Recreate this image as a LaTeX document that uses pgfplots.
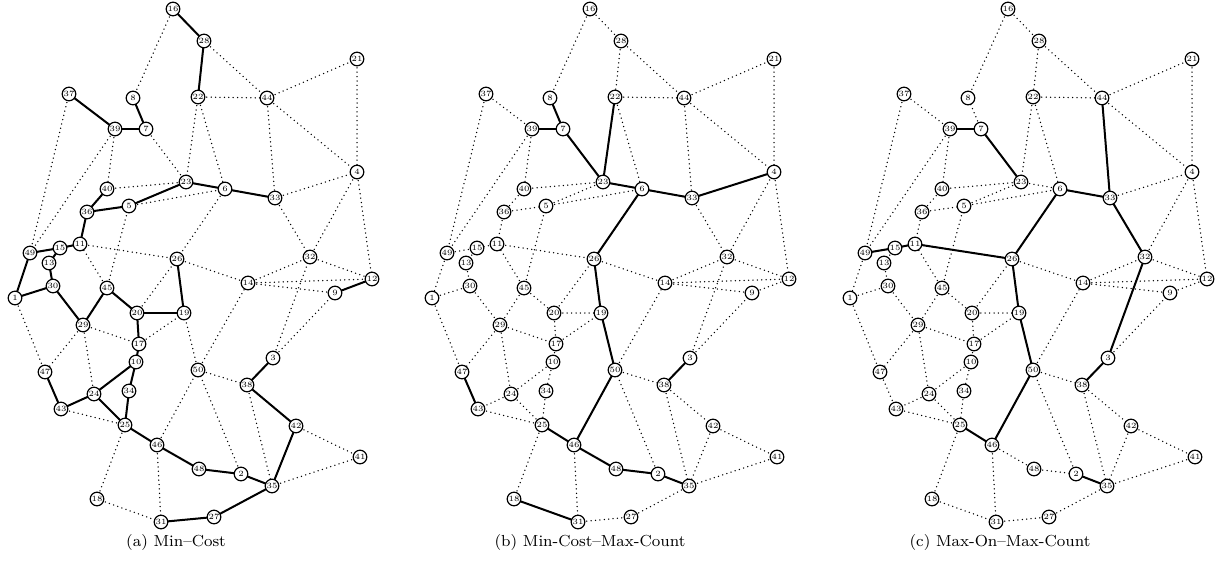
\documentclass[border=0pt]{standalone}
\usepackage{pgfplots}
\usepackage{pgfplotstable}
\pgfplotsset{compat=1.18}

\pgfplotstableread{
id x y
1 15 298
2 241 474
3 273 358
4 357 172
5 129 206
6 225 189
7 146 129
8 133 98
9 335 293
10 136 362
11 80 244
12 372 279
13 49 263
14 248 283
15 60 248
16 173 9
17 139 344
18 97 499
19 184 313
20 137 313
21 357 59
22 198 97
23 186 182
24 94 394
25 125 425
26 177 259
27 214 517
28 204 41
29 83 325
30 53 286
31 161 522
32 310 257
33 275 198
34 129 391
35 272 486
36 87 212
37 69 94
38 247 385
39 115 129
40 107 189
41 360 457
42 296 426
43 61 409
44 267 98
45 107 288
46 157 445
47 45 372
48 199 469
49 30 253
50 198 370
}\nodestab

\pgfplotstableread{
x1 y1 x2 y2
173 9 204 41
173 9 133 98
204 41 198 97
204 41 267 98
198 97 267 98
267 98 357 59
357 59 357 172
267 98 357 172
267 98 275 198
198 97 186 182
198 97 225 189
69 94 115 129
69 94 30 253
115 129 146 129
146 129 133 98
115 129 30 253
115 129 107 189
146 129 186 182
107 189 186 182
107 189 87 212
87 212 129 206
129 206 186 182
129 206 225 189
186 182 225 189
225 189 275 198
275 198 357 172
225 189 177 259
87 212 80 244
80 244 60 248
60 248 30 253
60 248 49 263
30 253 15 298
15 298 53 286
49 263 53 286
53 286 83 325
83 325 107 288
107 288 137 313
107 288 80 244
107 288 129 206
80 244 177 259
137 313 184 313
137 313 177 259
184 313 177 259
137 313 139 344
83 325 139 344
139 344 184 313
139 344 136 362
136 362 94 394
136 362 129 391
129 391 125 425
94 394 125 425
94 394 61 409
94 394 83 325
83 325 45 372
15 298 45 372
45 372 61 409
61 409 125 425
125 425 157 445
125 425 97 499
157 445 199 469
157 445 161 522
157 445 198 370
97 499 161 522
161 522 214 517
214 517 272 486
199 469 241 474
241 474 272 486
241 474 198 370
198 370 184 313
198 370 248 283
198 370 247 385
247 385 273 358
247 385 272 486
247 385 296 426
296 426 272 486
296 426 360 457
360 457 272 486
273 358 310 257
273 358 335 293
335 293 372 279
248 283 335 293
248 283 372 279
248 283 310 257
177 259 248 283
275 198 310 257
310 257 357 172
310 257 372 279
357 172 372 279
}\alledges

\pgfplotstableread{
x1 y1 x2 y2
173 9 204 41
204 41 198 97
69 94 115 129
115 129 146 129
146 129 133 98
107 189 87 212
87 212 129 206
129 206 186 182
186 182 225 189
225 189 275 198
87 212 80 244
80 244 60 248
60 248 30 253
60 248 49 263
30 253 15 298
15 298 53 286
49 263 53 286
53 286 83 325
83 325 107 288
107 288 137 313
137 313 184 313
184 313 177 259
137 313 139 344
139 344 136 362
136 362 94 394
136 362 129 391
129 391 125 425
94 394 125 425
94 394 61 409
61 409 45 372
125 425 157 445
157 445 199 469
199 469 241 474
241 474 272 486
272 486 214 517
214 517 161 522
272 486 296 426
296 426 247 385
247 385 273 358
335 293 372 279
}\solidA

\pgfplotstableread{
x1 y1 x2 y2
146 129 133 98
115 129 146 129
146 129 186 182
198 97 186 182
186 182 225 189
225 189 275 198
275 198 357 172
225 189 177 259
184 313 177 259
198 370 184 313
157 445 198 370
125 425 157 445
157 445 199 469
199 469 241 474
241 474 272 486
97 499 161 522
247 385 273 358
45 372 61 409
}\solidB

\pgfplotstableread{
x1 y1 x2 y2
115 129 146 129
146 129 186 182
267 98 275 198
225 189 275 198
225 189 177 259
275 198 310 257
273 358 310 257
247 385 273 358
60 248 30 253
80 244 60 248
80 244 177 259
184 313 177 259
198 370 184 313
157 445 198 370
125 425 157 445
241 474 272 486
}\solidC

\tikzset{
  edot/.style={line width=0.75pt, dash pattern=on 0pt off 2.2pt, line cap=round, black},
  esol/.style={line width=1pt, black, solid},
}
\pgfplotsset{
  gnodes/.style={only marks, mark=*, mark size=3.4pt,
    mark options={fill=white, draw=black, line width=0.6pt, solid},
    nodes near coords, point meta=explicit symbolic,
    nodes near coords align={center},
    every node near coord/.append style={font=\fontsize{4}{4.5}\selectfont, inner sep=0pt}},
  qv/.style={quiver={u=\thisrow{x2}-\thisrow{x1}, v=\thisrow{y2}-\thisrow{y1}}},
}

\begin{document}
\begin{tikzpicture}
\begin{axis}[
  width=611.5pt, height=289pt, scale only axis,
  xmin=0, xmax=1223, ymin=0, ymax=578, y dir=reverse,
  hide axis, clip=false,
]
\path (rel axis cs:0,0) rectangle (rel axis cs:1,1);
% panel a
\addplot[edot, qv] table[x expr=\thisrow{x1}, y=y1] {\alledges};
\addplot[esol, qv] table[x expr=\thisrow{x1}, y=y1] {\solidA};
\addplot[gnodes] table[x expr=\thisrow{x}, y=y, meta=id] {\nodestab};
% panel b
\addplot[edot, qv] table[x expr=\thisrow{x1}+417, y=y1] {\alledges};
\addplot[esol, qv] table[x expr=\thisrow{x1}+417, y=y1] {\solidB};
\addplot[gnodes] table[x expr=\thisrow{x}+417, y=y, meta=id] {\nodestab};
% panel c
\addplot[edot, qv] table[x expr=\thisrow{x1}+835, y=y1] {\alledges};
\addplot[esol, qv] table[x expr=\thisrow{x1}+835, y=y1] {\solidC};
\addplot[gnodes] table[x expr=\thisrow{x}+835, y=y, meta=id] {\nodestab};

\node[font=\fontsize{8}{9}\selectfont] at (axis cs:176,542) {(a) Min--Cost};
\node[font=\fontsize{8}{9}\selectfont] at (axis cs:590,542) {(b) Min-Cost--Max-Count};
\node[font=\fontsize{8}{9}\selectfont] at (axis cs:1000,542) {(c) Max-On--Max-Count};
\end{axis}
\end{tikzpicture}
\end{document}
